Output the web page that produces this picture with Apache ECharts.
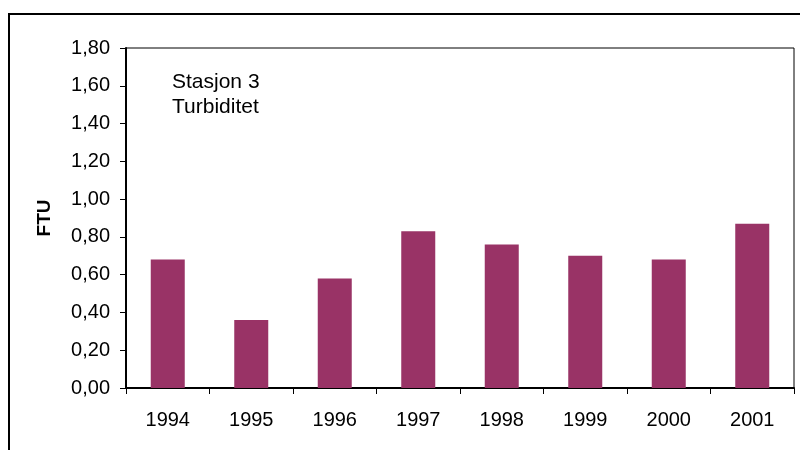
<!DOCTYPE html>
<html><head><meta charset="utf-8">
<script src="https://cdn.jsdelivr.net/npm/echarts@6/dist/echarts.min.js"></script>
<style>html,body{margin:0;padding:0;background:#fff}#c{width:800px;height:450px}</style>
</head><body><div id="c"></div>
<script>
const years = ['1994','1995','1996','1997','1998','1999','2000','2001'];
const turbidity = [0.68, 0.36, 0.58, 0.83, 0.76, 0.70, 0.68, 0.87];
const yTitle = 'FTU';
const noteLines = ['Stasjon 3', 'Turbiditet'];

const chart = echarts.init(document.getElementById('c'), null, {renderer: 'canvas'});
const font = 'Liberation Sans, Arial, sans-serif';
chart.setOption({
  animation: false,
  backgroundColor: '#fff',
  textStyle: {fontFamily: font},
  graphic: [
    {type: 'rect', shape: {x: 9, y: 14, width: 820, height: 460},
     style: {fill: null, stroke: '#000', lineWidth: 2}, z: -1}
  ],
  title: {
    text: noteLines.join('\n'), left: 167, top: 65,
    textStyle: {fontFamily: font, fontSize: 21, fontWeight: 'normal', color: '#000', lineHeight: 25}
  },
  grid: {left: 126, right: 6, top: 48, bottom: 62, show: true, borderColor: '#000', borderWidth: 1, containLabel: false},
  xAxis: {
    type: 'category', data: years, boundaryGap: true,
    axisLine: {lineStyle: {color: '#000', width: 2}},
    axisTick: {show: true, length: 6, lineStyle: {color: '#000'}},
    axisLabel: {color: '#000', fontSize: 20, margin: 22, fontFamily: font}
  },
  yAxis: {
    type: 'value', min: 0, max: 1.8, interval: 0.2,
    name: yTitle, nameLocation: 'middle', nameGap: 72, nameRotate: 90,
    nameTextStyle: {fontWeight: 'bold', fontSize: 19, color: '#000', fontFamily: font},
    splitLine: {show: false},
    axisLine: {show: true, lineStyle: {color: '#000', width: 2}},
    axisTick: {show: true, length: 6, lineStyle: {color: '#000'}},
    axisLabel: {color: '#000', fontSize: 20, margin: 16, fontFamily: font,
      formatter: v => v.toFixed(2).replace('.', ',')}
  },
  series: [{
    type: 'bar', data: turbidity, barWidth: 34,
    itemStyle: {color: '#993366'}
  }]
});
</script></body></html>
